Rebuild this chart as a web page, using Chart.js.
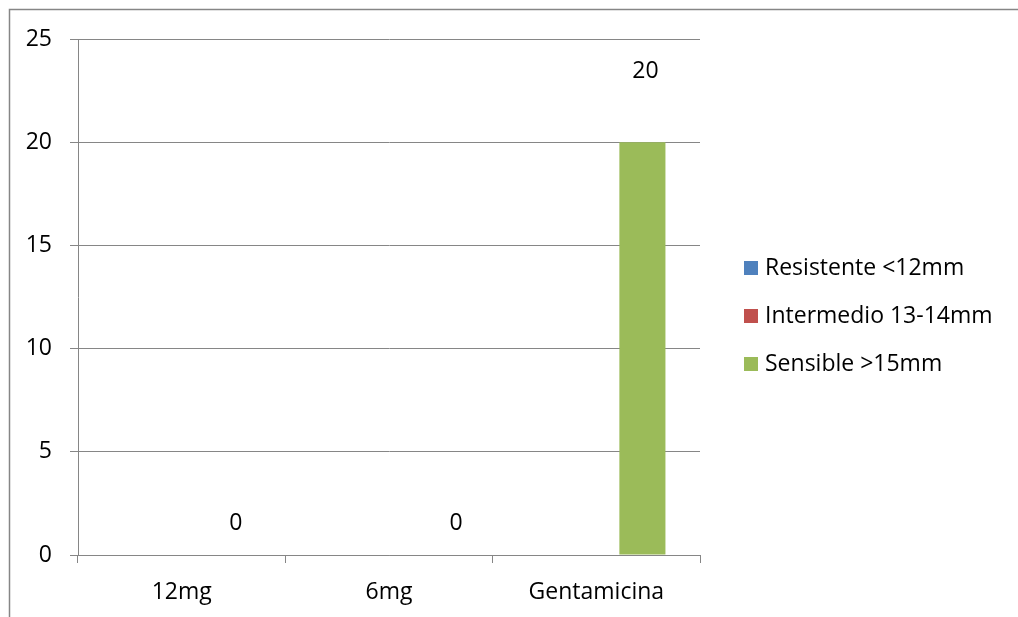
<!DOCTYPE html>
<html>
<head>
<meta charset="utf-8">
<script src="https://cdn.jsdelivr.net/npm/chart.js@4/dist/chart.umd.min.js"></script>
<style>
  html, body { margin: 0; padding: 0; background: #ffffff; }
  #wrap { width: 1018px; height: 617px; position: relative; }
</style>
</head>
<body>
<div id="wrap"><canvas id="c" width="1018" height="617"></canvas></div>
<script>
// Categories and series
const categories = ['12mg', '6mg', 'Gentamicina'];
const seriesNames = ['Resistente <12mm', 'Intermedio 13-14mm', 'Sensible >15mm'];
const resistente = [0, 0, 0];
const intermedio = [0, 0, 0];
const sensible = [0, 0, 20];
const yTicks = [0, 5, 10, 15, 20, 25];

const FONT = '"Open Sans", Lato, sans-serif';
const FONT_SIZE = 23;
const GRID = '#868686';
const colors = ['#4F81BD', '#C0504D', '#9BBB59'];

// Outer frame of the chart object
const framePlugin = {
  id: 'frame',
  beforeDraw(chart) {
    const ctx = chart.ctx;
    ctx.save();
    ctx.fillStyle = '#ffffff';
    ctx.fillRect(0, 0, chart.width, chart.height);
    ctx.strokeStyle = GRID;
    ctx.lineWidth = 1.5;
    ctx.beginPath();
    ctx.moveTo(9.5, chart.height + 5);
    ctx.lineTo(9.5, 9.5);
    ctx.lineTo(chart.width + 5, 9.5);
    ctx.stroke();
    ctx.restore();
  }
};

// Value labels for the "Sensible" series
const valueLabelPlugin = {
  id: 'valueLabels',
  afterDatasetsDraw(chart, args, opts) {
    const ctx = chart.ctx;
    const ds = opts.datasetIndex;
    const meta = chart.getDatasetMeta(ds);
    ctx.save();
    ctx.font = FONT_SIZE + 'px ' + FONT;
    ctx.fillStyle = '#000000';
    ctx.textAlign = 'center';
    ctx.textBaseline = 'middle';
    meta.data.forEach((bar, i) => {
      const v = chart.data.datasets[ds].data[i];
      const off = opts.offsets[i];
      ctx.fillText(String(v), bar.x + off.dx, bar.y - off.dy);
    });
    ctx.restore();
  }
};

// Legend drawn to the right of the plot
const sideLegendPlugin = {
  id: 'sideLegend',
  afterDraw(chart, args, opts) {
    const ctx = chart.ctx;
    ctx.save();
    ctx.font = FONT_SIZE + 'px ' + FONT;
    ctx.textAlign = 'left';
    ctx.textBaseline = 'middle';
    chart.data.datasets.forEach((d, i) => {
      const cy = opts.top + i * opts.spacing;
      ctx.fillStyle = d.backgroundColor;
      ctx.fillRect(opts.left, cy - 7, 14, 14);
      ctx.fillStyle = '#000000';
      ctx.fillText(d.label, opts.left + 21, cy);
    });
    ctx.restore();
  }
};

new Chart(document.getElementById('c'), {
  type: 'bar',
  data: {
    labels: categories,
    datasets: [
      { label: seriesNames[0], data: resistente, backgroundColor: colors[0] },
      { label: seriesNames[1], data: intermedio, backgroundColor: colors[1] },
      { label: seriesNames[2], data: sensible, backgroundColor: colors[2] }
    ]
  },
  options: {
    responsive: false,
    animation: false,
    devicePixelRatio: 1,
    categoryPercentage: 3 / 4.5,
    barPercentage: 1,
    layout: { padding: { left: 0, top: 39, right: 318, bottom: 0 } },
    plugins: {
      legend: { display: false },
      tooltip: { enabled: false },
      valueLabels: {
        datasetIndex: 2,
        offsets: [{ dx: 8, dy: 32 }, { dx: 21, dy: 32 }, { dx: 3, dy: 71 }]
      },
      sideLegend: { left: 744, top: 268, spacing: 48 }
    },
    scales: {
      x: {
        grid: {
          offset: true,
          drawOnChartArea: false,
          drawTicks: true,
          tickLength: 8,
          color: GRID
        },
        border: { color: GRID, width: 1 },
        ticks: { color: '#000000', font: { family: FONT, size: FONT_SIZE }, padding: 16 },
        afterFit(scale) { scale.height = 62; }
      },
      y: {
        min: 0,
        max: 25,
        afterBuildTicks(scale) { scale.ticks = yTicks.map(v => ({ value: v })); },
        grid: { color: GRID, tickLength: 8, drawTicks: true },
        border: { color: GRID, width: 1 },
        ticks: { color: '#000000', font: { family: FONT, size: FONT_SIZE }, padding: 18 },
        afterFit(scale) { scale.width = 78; }
      }
    }
  },
  plugins: [framePlugin, valueLabelPlugin, sideLegendPlugin]
});
</script>
</body>
</html>
